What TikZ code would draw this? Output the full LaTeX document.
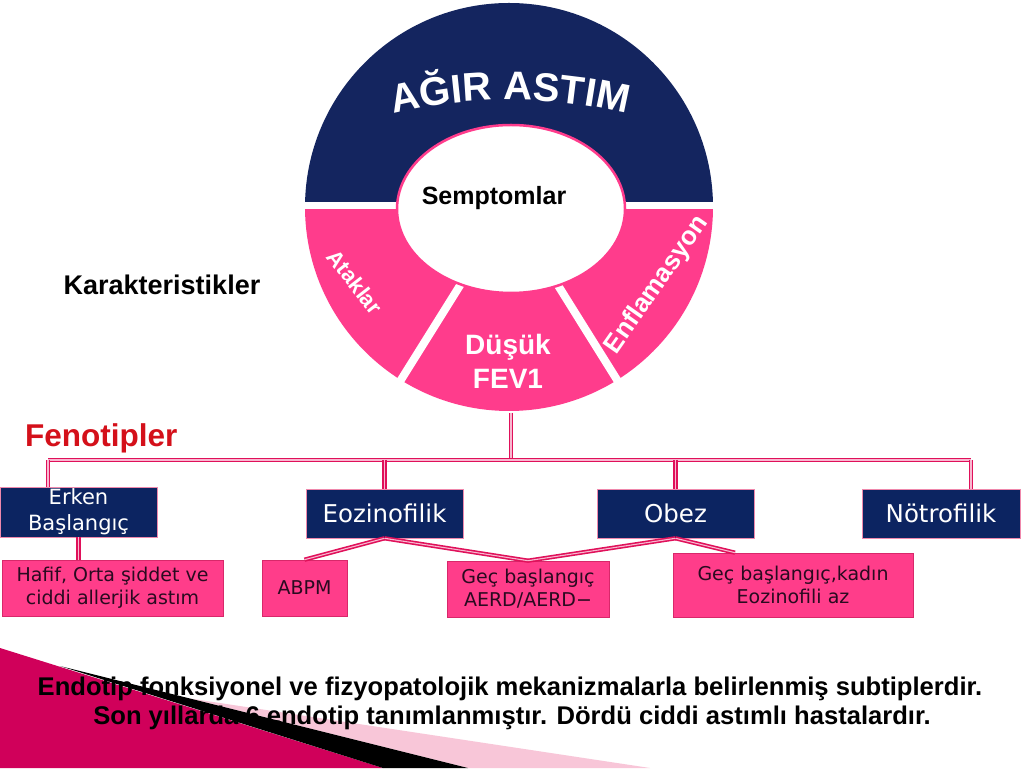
\documentclass[tikz,border=0pt]{standalone}
\usepackage{fontspec}
\setmainfont{Liberation Sans}
\newfontfamily\boxfont{DejaVu Sans}
\usetikzlibrary{decorations.text}
\definecolor{navy}{HTML}{14255F}
\definecolor{boxnavy}{HTML}{0C2461}
\definecolor{segpink}{HTML}{FF3C8C}
\definecolor{boxpink}{HTML}{FF3D8A}
\definecolor{boxedge}{HTML}{D8286A}
\definecolor{boxtext}{HTML}{2A0A20}
\definecolor{linkpink}{HTML}{E0105A}
\definecolor{linklight}{HTML}{F8B8D0}
\definecolor{fenred}{HTML}{D4101A}
\definecolor{decodark}{HTML}{D0005A}
\definecolor{decomid}{HTML}{F0508C}
\definecolor{decolight}{HTML}{F8C6D8}
\begin{document}
\begin{tikzpicture}[x=1pt,y=1pt,
  navybox/.style={draw=linkpink!50, line width=0.6pt, fill=boxnavy, text=white,
    font=\boxfont\fontsize{24.5}{26}\selectfont, minimum height=49pt, inner sep=0pt},
  pinkbox/.style={draw=boxedge, line width=0.6pt, fill=boxpink, text=boxtext,
    font=\boxfont\fontsize{19}{23}\selectfont, align=center, inner sep=0pt},
  link/.style={draw=linkpink, line width=1.6pt, double=linklight, double distance=1.1pt},
  segtext/.style={text=white, inner sep=0pt, font=\bfseries\fontsize{#1}{#1}\selectfont}]
\fill[white] (0,0) rectangle (1024,768);
\useasboundingbox (0,0) rectangle (1024,768);
% corner decoration
\shade[left color=decodark, middle color=decomid, right color=decodark] (0,120) -- (383,0) -- (0,0) -- cycle;
\fill[decolight] (190,69.5) -- (650,0) -- (468,0) -- cycle;
\fill[black] (60,102) -- (468,0) -- (383,0) -- cycle;
% circle
\coordinate (c) at (509,561);
\begin{scope}
  \clip (300,566) rectangle (720,770);
  \fill[navy] (c) circle (204);
\end{scope}
\begin{scope}
  \clip (300,558) rectangle (720,340);
  \fill[segpink] (c) circle (204);
\end{scope}
\draw[white, line width=8pt] (c) -- ++(-122:215);
\draw[white, line width=8pt] (c) -- ++(-58:215);
\draw[fill=white, draw=segpink, line width=2.5pt] (511,559) ellipse [x radius=114, y radius=84];
\path[decorate, decoration={text along path, text align=center, text color=white,
  text={|\fontsize{40}{40}\selectfont\bfseries|AĞIR ASTIM}}]
  (510,172) ++(106:496) arc[start angle=106, end angle=74, radius=496];
\node[anchor=base, inner sep=0pt, font=\bfseries\fontsize{25}{25}\selectfont] (sempt) at (494,563) {Semptomlar};
\node[segtext=22, rotate=-52] (atak) at (355,486) {Ataklar};
\node[segtext=26, rotate=55] (enfl) at (657,483) {Enflamasyon};
\node[segtext=28, align=center, font=\bfseries\fontsize{28}{34}\selectfont] (fev1) at (508,407) {Düşük\\FEV1};
% labels
\node[anchor=base, inner sep=0pt, font=\bfseries\fontsize{27}{27}\selectfont] (karak) at (162,473) {Karakteristikler};
\node[anchor=base west, inner sep=0pt, text=fenred, font=\bfseries\fontsize{31.5}{31.5}\selectfont] (feno) at (25,321) {Fenotipler};
% phenotypes
\node[navybox, minimum width=157pt, minimum height=50pt, align=center,
  font=\boxfont\fontsize{21}{26}\selectfont] (erken) at (78.5,256) {Erken\\Başlangıç};
\node[navybox, minimum width=157pt] (eozi) at (384.5,254.5) {Eozinofilik};
\node[navybox, minimum width=157pt] (obez) at (675.5,254.5) {Obez};
\node[navybox, minimum width=158pt] (notro) at (941,254.5) {Nötrofilik};
\node[pinkbox, minimum width=221pt, minimum height=56pt] (hafif) at (112.5,180) {Hafif, Orta şiddet ve\\ciddi allerjik astım};
\node[pinkbox, minimum width=85pt, minimum height=56pt] (abpm) at (304.5,180) {ABPM};
\node[pinkbox, minimum width=162pt, minimum height=56pt] (gec) at (528,179) {Geç başlangıç\\AERD/AERD−};
\node[pinkbox, minimum width=240pt, minimum height=64pt] (kadin) at (793,183) {Geç başlangıç,kadın\\Eozinofili az};
% tree
\coordinate (fev) at (511,355);
\coordinate (bar) at (511,308);
\coordinate (barL) at (48,308);
\coordinate (barR) at (971,308);
\draw[link] (fev) -- (bar);
\draw[link] (barL) -- (barR);
\draw[link] (barL) -- (barL |- erken.north);
\draw[link] (eozi.north |- bar) -- (eozi.north);
\draw[link] (obez.north |- bar) -- (obez.north);
\draw[link] (barR) -- (barR |- notro.north);
\draw[link] (erken.south) -- (erken.south |- hafif.north);
\draw[link] (eozi.south) -- (abpm.north);
\draw[link] (eozi.south) -- (gec.north);
\draw[link] (obez.south) -- (gec.north);
\draw[link] (obez.south) -- ([xshift=-58pt]kadin.north);
% endotype note
\node[anchor=base, inner sep=0pt, font=\bfseries\fontsize{25.6}{29}\selectfont] (note1) at (510,73) {Endotip fonksiyonel ve fizyopatolojik mekanizmalarla belirlenmiş subtiplerdir.};
\node[anchor=base, inner sep=0pt, font=\bfseries\fontsize{25.6}{29}\selectfont] (note2) at (512,44) {Son yıllarda 6 endotip tanımlanmıştır. Dördü ciddi astımlı hastalardır.};
\end{tikzpicture}
\end{document}
